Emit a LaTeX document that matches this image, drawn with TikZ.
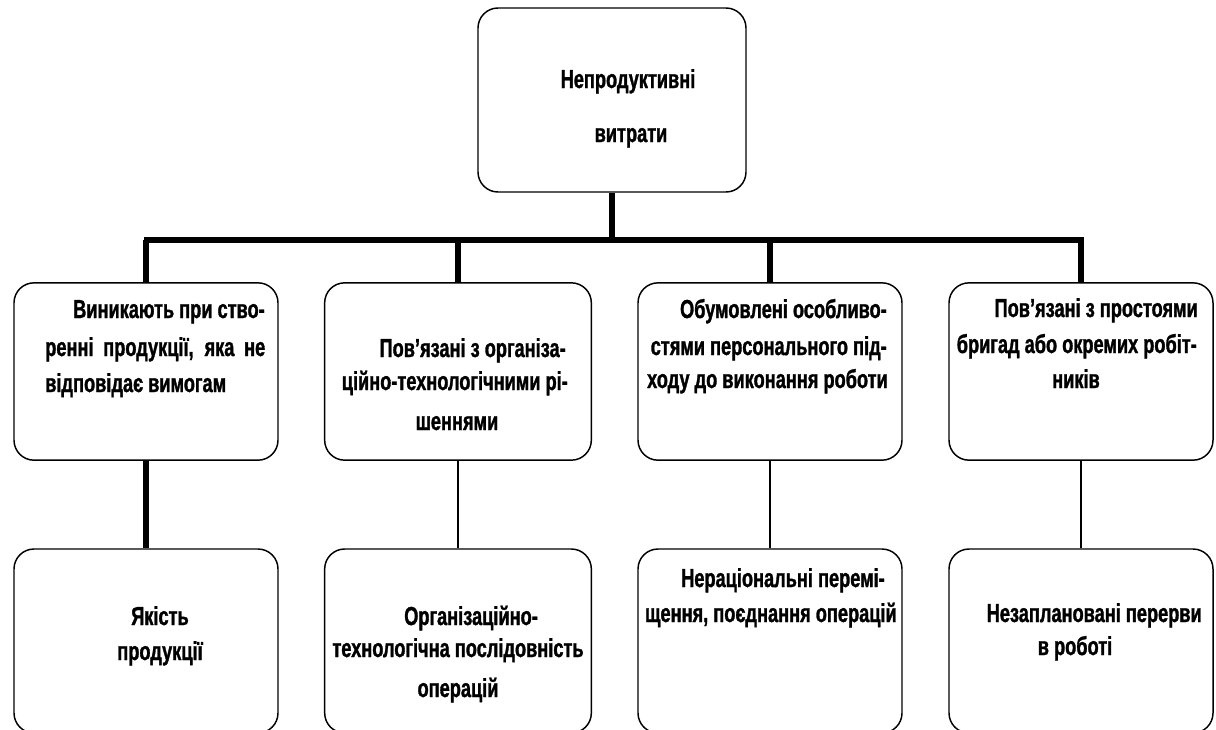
\documentclass[tikz,border=0pt]{standalone}
\usepackage{fontspec}
\setmainfont{Liberation Sans}[FakeStretch=0.70,FakeBold=1.2]
\begin{document}
\begin{tikzpicture}[x=0.75pt,y=-0.75pt,
  box/.style={draw=black, line width=1.1pt, rounded corners=15pt, fill=white, inner sep=0pt},
  topbox/.style={box, minimum width=201pt, minimum height=138pt},
  rowbox/.style={box, minimum width=198pt, minimum height=133pt},
  lowbox/.style={box, minimum width=198pt, minimum height=138pt},
  txt/.style={inner sep=0pt, font=\fontsize{19.5pt}{23pt}\selectfont\bfseries},
  barline/.style={line width=5.2pt},
  heavy/.style={line width=4pt},
  light/.style={line width=1.6pt}]
\clip (0,0) rectangle (1216,729);
\fill[white] (0,0) rectangle (1216,729);

% boxes
\node[topbox] (top) at (612,100) {};
\node[rowbox] (b1) at (146,371.5) {};
\node[rowbox, minimum width=200pt] (b2) at (458,371.5) {};
\node[rowbox] (b3) at (770,371.5) {};
\node[rowbox] (b4) at (1081,371.5) {};
\node[lowbox] (c1) at (146,641) {};
\node[lowbox, minimum width=200pt] (c2) at (458,641) {};
\node[lowbox] (c3) at (770,641) {};
\node[lowbox] (c4) at (1081,641) {};

% connectors
\coordinate (barL) at (144,240);
\coordinate (barR) at (1084,240);
\draw[barline] (barL) -- (barR);
\draw[heavy] (top.south) -- (top.south |- barL);
\draw[heavy] (b1.north |- barL) -- (b1.north);
\draw[heavy] (b2.north |- barL) -- (b2.north);
\draw[heavy] (b3.north |- barL) -- (b3.north);
\draw[heavy] (b4.north |- barL) -- (b4.north);
\draw[heavy] (b1.south) -- (c1.north);
\draw[light] (b2.south) -- (c2.north);
\draw[light] (b3.south) -- (c3.north);
\draw[light] (b4.south) -- (c4.north);

% texts: top
\node[txt, anchor=base] (t1) at (628,88) {Непродуктивні};
\node[txt, anchor=base] (t2) at (631,142) {витрати};
% b1
\node[txt, anchor=base east] (b1a) at (265,318) {Виникають при ство-};
\node[txt, anchor=base west] (b1b) at (45,356) {\makebox[165pt][s]{ренні продукції, яка не}};
\node[txt, anchor=base west] (b1c) at (45,392) {відповідає вимогам};
% b2
\node[txt, anchor=base east] (b2a) at (566,357) {Пов’язані з організа-};
\node[txt, anchor=base east] (b2b) at (568,390) {ційно-технологічними рі-};
\node[txt, anchor=base] (b2c) at (457,430) {шеннями};
% b3
\node[txt, anchor=base east] (b3a) at (887,318) {Обумовлені особливо-};
\node[txt, anchor=base east] (b3b) at (887,355) {стями персонального під-};
\node[txt, anchor=base east] (b3c) at (888,388) {ходу до виконання роботи};
% b4
\node[txt, anchor=base east] (b4a) at (1198,317) {Пов’язані з простоями};
\node[txt, anchor=base east] (b4b) at (1197,353) {бригад або окремих робіт-};
\node[txt, anchor=base] (b4c) at (1076,388) {ників};
% c1
\node[txt, anchor=base] (c1a) at (160,625) {Якість};
\node[txt, anchor=base] (c1b) at (160,660) {продукції};
% c2
\node[txt, anchor=base] (c2a) at (471,625) {Організаційно-};
\node[txt, anchor=base] (c2b) at (458,657) {технологічна послідовність};
\node[txt, anchor=base] (c2c) at (458,697) {операцій};
% c3
\node[txt, anchor=base east] (c3a) at (885,587) {Нераціональні перемі-};
\node[txt, anchor=base east] (c3b) at (897,622) {щення, поєднання операцій};
% c4
\node[txt, anchor=base east] (c4a) at (1202,622) {Незаплановані перерви};
\node[txt, anchor=base] (c4b) at (1075,655) {в роботі};
\end{tikzpicture}
\end{document}
